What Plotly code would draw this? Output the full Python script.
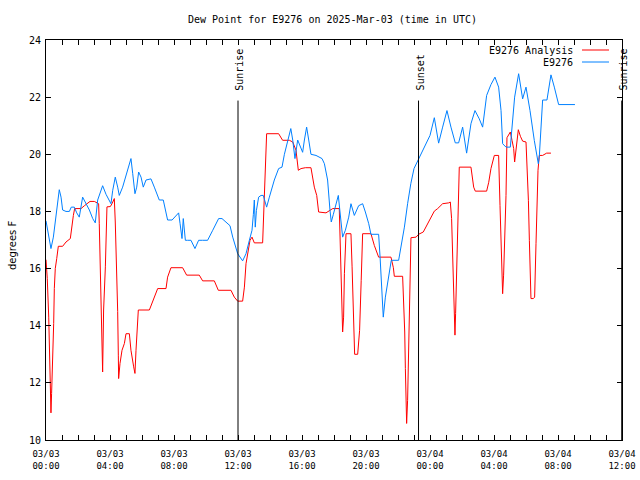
import pandas as pd
import plotly.graph_objects as go

# ---- data (hours after 2025-03-03 00:00 UTC) ----
obs_hours = [0, 0.21, 0.31, 0.46, 0.58, 0.73, 0.83, 0.94, 1.04, 1.25, 1.46, 1.58, 1.77, 1.92, 2.08,
             2.29, 2.5, 2.71, 2.92, 3.08, 3.23, 3.38, 3.54, 3.75, 3.96, 4.06, 4.17, 4.33, 4.48, 4.58,
             4.79, 5.04, 5.21, 5.31, 5.42, 5.56, 5.67, 5.79, 5.94, 6.08, 6.25, 6.56, 6.77, 6.98, 7.08,
             7.33, 7.46, 7.6, 7.88, 8.13, 8.29, 8.38, 8.5, 8.58, 8.71, 8.85, 9.06, 9.31, 9.54, 9.79,
             10.1, 10.42, 10.79, 11.0, 11.25, 11.5, 11.67, 11.98,
             12.29, 12.5, 12.71, 12.875, 12.96, 13.02, 13.08, 13.15, 13.29, 13.44, 13.58, 13.79, 13.96,
             14.27, 14.54, 14.75, 14.9, 15.1, 15.3, 15.42, 15.56, 15.73, 15.875, 16.04, 16.15, 16.29,
             16.42, 16.56, 16.875, 17.25, 17.4, 17.6, 17.75, 17.83, 17.96, 18.125, 18.27, 18.375, 18.54,
             18.71, 18.92, 19.06, 19.27, 19.54, 19.79, 19.96, 20.17, 20.31, 20.79, 20.88, 21.0, 21.08,
             21.21, 21.42, 21.58, 22.04, 22.19, 22.4, 22.6, 22.8,
             23.0, 23.29, 23.65, 24.0, 24.27, 24.54, 24.79, 25.06, 25.31, 25.58, 25.79, 26.04, 26.29,
             26.56, 26.81, 27.08, 27.29, 27.54, 27.81, 28.06, 28.29, 28.44, 28.54, 28.75, 29.02, 29.17,
             29.29, 29.54, 29.79, 30.0, 30.25, 30.52, 30.69, 30.77, 30.83, 30.94, 31.04, 31.31, 31.56,
             31.77, 32.04, 33.06]
obs_values = [17.67, 17.1, 16.7, 17.1, 17.7, 18.3, 18.76, 18.5, 18.05, 18.0, 18.0, 18.15, 18.15, 17.95, 17.8,
              18.5, 18.27, 18.05, 17.75, 17.6, 18.4, 18.68, 18.9, 18.6, 18.4, 18.27, 18.74, 19.2, 18.85, 18.56,
              18.85, 19.3, 19.67, 19.85, 19.32, 18.62, 18.85, 19.38, 19.2, 18.85, 19.1, 19.14, 18.85, 18.5, 18.4,
              18.4, 18.05, 17.7, 17.7, 17.86, 17.95, 17.57, 17.05, 17.75, 16.99, 16.99, 16.99, 16.7, 16.99, 16.99,
              16.99, 17.34, 17.75, 17.75, 17.63, 17.5, 17.1, 16.52,
              16.27, 16.52, 16.99, 17.34, 17.9, 18.4, 17.45, 18.03, 18.5, 18.56, 18.56, 18.15, 18.5,
              19.1, 19.5, 19.55, 20.0, 20.5, 20.9, 20.5, 19.85, 20.5, 20.3, 20.07, 20.5, 20.95,
              20.5, 20.0, 19.96, 19.85, 19.67, 19.1, 18.03, 17.63, 17.9, 18.27, 18.56, 17.98, 17.1,
              17.34, 17.8, 18.27, 17.86, 18.2, 18.27, 17.98, 17.57, 17.2, 17.2, 16.4, 14.77, 14.3,
              15.0, 15.8, 16.29, 16.29, 16.75, 17.45, 18.27, 18.97,
              19.5, 19.85, 20.25, 20.66, 21.28, 20.39, 20.95, 21.53, 20.95, 20.4, 20.4, 20.95, 20.04,
              21.07, 21.53, 21.24, 20.95, 22.06, 22.44, 22.7, 22.35, 21.53, 20.37, 20.25, 20.25, 21.2,
              22.0, 22.82, 21.94, 22.35, 21.53, 20.48, 19.9, 19.67, 19.9, 20.95, 21.9, 21.9, 22.78,
              22.35, 21.74, 21.74]

ana_hours = [0, 0.08, 0.17, 0.21, 0.27, 0.31, 0.35, 0.42, 0.48, 0.52, 0.58, 0.67, 0.77, 1.04, 1.25, 1.52,
             1.6, 1.71, 1.79, 2.19, 2.4, 2.75, 3.02, 3.29, 3.33, 3.38, 3.44, 3.5, 3.54, 3.6, 3.71, 3.81,
             4.02, 4.125, 4.27, 4.33, 4.42, 4.48, 4.52, 4.54, 4.625, 4.75, 4.9, 5.0, 5.21, 5.31, 5.48,
             5.56, 5.625, 5.69, 5.77, 6.46, 6.77, 6.98, 7.5, 7.6, 7.81, 8.54, 8.79, 9.58, 9.79, 10.52,
             10.77, 11.56, 11.77, 11.98, 12.29, 12.4, 12.5, 12.6, 12.75, 12.875, 13.02, 13.54, 13.6,
             13.71, 13.79, 14.54, 14.79, 15.21, 15.42, 15.625, 15.77, 15.94, 16.21, 16.56, 16.77, 16.92,
             17.04, 17.5, 17.92, 18.33, 18.4, 18.46, 18.54, 18.6, 18.65, 18.75, 19.06, 19.13, 19.21,
             19.29, 19.48, 19.6, 19.7, 19.79, 20.31, 20.52, 20.79, 21.56, 21.71, 21.77, 22.29, 22.35,
             22.42, 22.46, 22.5, 22.54, 22.6, 22.67, 22.73, 22.77, 22.81, 23.13, 23.29, 23.58, 23.85,
             24.27, 24.48, 24.79, 25.17, 25.27, 25.35, 25.42, 25.48, 25.52, 25.56, 25.6, 25.67, 25.73,
             25.79, 25.83, 26.56, 26.73, 26.83, 27.54, 27.67, 27.81, 28.02, 28.29, 28.375, 28.44, 28.5,
             28.54, 28.6, 28.69, 28.75, 28.81, 29.02, 29.125, 29.23, 29.29, 29.42, 29.52, 29.65, 29.79,
             30.0, 30.06, 30.15, 30.21, 30.27, 30.31, 30.46, 30.54, 30.625, 30.69, 30.75, 30.83, 31.04,
             31.29, 31.56]
ana_values = [16.31, 15.65, 14.3, 12.97, 11.63, 10.95, 11.63, 12.8, 14.08, 15.3, 16.0, 16.35, 16.78, 16.78, 16.93, 17.05,
              17.45, 17.86, 18.1, 18.1, 18.2, 18.35, 18.35, 18.27, 17.57, 16.06, 14.6, 13.14, 12.38, 14.55, 16.06, 18.16,
              18.17, 18.27, 18.45, 17.63, 16.06, 14.5, 12.97, 12.15, 12.68, 13.14, 13.38, 13.72, 13.72, 13.14, 12.56,
              12.33, 13.14, 13.7, 14.55, 14.55, 15.0, 15.3, 15.3, 15.7, 16.03, 16.03, 15.77, 15.77, 15.57, 15.57,
              15.24, 15.24, 15.0, 14.86, 14.86, 15.35, 16.17, 16.46, 16.99, 17.1, 16.9, 16.9, 17.8,
              19.26, 20.72, 20.72, 20.49, 20.49, 20.43, 20.14, 19.44, 19.5, 19.53, 19.53, 18.85, 18.56,
              17.98, 17.95, 18.1, 18.1, 16.87, 15.36, 13.78, 14.3, 15.82, 17.22, 17.22, 16.06, 14.6,
              13.0, 13.0, 13.84, 15.59, 17.22, 17.22, 16.81, 16.4, 16.4, 16.03, 15.73, 15.73, 15.06,
              13.78, 12.5, 11.28, 10.58, 11.39, 13.0, 14.66, 16.29, 17.08, 17.1, 17.2, 17.28, 17.57,
              18.01, 18.1, 18.27, 18.3, 18.33, 17.75, 16.58, 15.42, 14.3, 13.67, 14.42, 15.94, 17.34,
              18.8, 19.55, 19.55, 18.85, 18.71, 18.71, 19.02, 19.5, 19.96, 19.96, 18.21, 16.99, 15.77,
              15.12, 15.77, 17.34, 18.56, 20.58, 20.78, 20.49, 20.2, 19.73, 20.37, 20.86, 20.63, 20.46,
              20.43, 19.67, 18.39, 16.99, 15.59, 14.95, 14.95, 15.0, 16.87, 18.15, 19.44, 19.96, 19.96,
              20.04, 20.04]

tick_times = ["2025-03-03 00:00", "2025-03-03 04:00", "2025-03-03 08:00", "2025-03-03 12:00",
              "2025-03-03 16:00", "2025-03-03 20:00", "2025-03-04 00:00", "2025-03-04 04:00",
              "2025-03-04 08:00", "2025-03-04 12:00"]
tick_labels = ["03/03<br>00:00", "03/03<br>04:00", "03/03<br>08:00", "03/03<br>12:00",
               "03/03<br>16:00", "03/03<br>20:00", "03/04<br>00:00", "03/04<br>04:00",
               "03/04<br>08:00", "03/04<br>12:00"]
sun_times = ["2025-03-03 12:00", "2025-03-03 23:17", "2025-03-04 11:59"]
sun_labels = ["Sunrise", "Sunset", "Sunrise"]
series_names = ["E9276 Analysis", "E9276"]
series_colors = ["#ff0000", "#0080ff"]

base = pd.Timestamp("2025-03-03 00:00")
obs_t = base + pd.to_timedelta(obs_hours, unit="h")
ana_t = base + pd.to_timedelta(ana_hours, unit="h")

MONO = "DejaVu Sans Mono"
fig = go.Figure()
fig.add_trace(go.Scatter(x=ana_t, y=ana_values, mode="lines", name=series_names[0],
                         line=dict(color=series_colors[0], width=1), showlegend=False))
fig.add_trace(go.Scatter(x=obs_t, y=obs_values, mode="lines", name=series_names[1],
                         line=dict(color=series_colors[1], width=1), showlegend=False))

# plot area: x 46..622, y 40..440
L, R, T, B = 46, 622, 40, 440
def px(xp):
    return (xp - L) / (R - L)
def py(yp):
    return (B - yp) / (B - T)

# sunrise / sunset lines and labels
for t, lab in zip(sun_times, sun_labels):
    fig.add_shape(type="line", xref="x", yref="y", x0=t, x1=t, y0=10, y1=21.88,
                  line=dict(color="black", width=1))
    fig.add_annotation(x=t, y=22.15, xref="x", yref="y", text=lab, textangle=-90,
                       showarrow=False, xanchor="center", yanchor="bottom", xshift=2,
                       font=dict(family=MONO, size=10, color="black"))

# manual legend (text right, line sample to right)
for i, (nm, col) in enumerate(zip(series_names, series_colors)):
    yy = [50, 62][i]
    fig.add_annotation(x=px(575), y=py(yy), xref="paper", yref="paper", text=nm,
                       showarrow=False, xanchor="right", yanchor="middle",
                       font=dict(family=MONO, size=10, color="black"))
    fig.add_shape(type="line", xref="paper", yref="paper", x0=px(582), x1=px(609),
                  y0=py(yy), y1=py(yy), line=dict(color=col, width=1))

# title
fig.add_annotation(x=px(332), y=py(20), xref="paper", yref="paper",
                   text="Dew Point for E9276 on 2025-Mar-03 (time in UTC)", showarrow=False,
                   xanchor="center", yanchor="middle", font=dict(family=MONO, size=10, color="black"))
# y title
fig.add_annotation(x=px(12), y=py(246), xref="paper", yref="paper", text="degrees F",
                   textangle=-90, showarrow=False, xanchor="center", yanchor="middle",
                   font=dict(family="DejaVu Sans", size=10, color="black"))

fig.update_layout(
    width=640, height=480,
    margin=dict(l=L, r=640 - R, t=T, b=480 - B, pad=0, autoexpand=False),
    paper_bgcolor="white", plot_bgcolor="white",
    showlegend=False,
    font=dict(family=MONO, size=9, color="black"),
)
fig.update_xaxes(
    type="date", range=["2025-03-03 00:00", "2025-03-04 12:00"],
    tickmode="array", tickvals=tick_times, ticktext=tick_labels,
    ticks="inside", ticklen=5, tickcolor="black", tickwidth=1,
    minor=dict(dtick=3600000, ticks="inside", ticklen=5, tickcolor="black", tickwidth=1, showgrid=False),
    showline=True, linecolor="black", linewidth=1, mirror="allticks",
    showgrid=False, zeroline=False, tickfont=dict(family=MONO, size=9),
    ticklabelstandoff=5,
)
fig.update_yaxes(
    range=[10, 24], tickmode="array", tickvals=[10, 12, 14, 16, 18, 20, 22, 24],
    ticktext=["10", "12", "14", "16", "18", "20", "22", "24"],
    ticks="inside", ticklen=5, tickcolor="black", tickwidth=1,
    showline=True, linecolor="black", linewidth=1, mirror="allticks",
    showgrid=False, zeroline=False, tickfont=dict(family=MONO, size=10),
    ticklabelstandoff=2,
)

fig.write_html("out.html", config={"displayModeBar": False},
               post_script="document.body.style.margin='0px';")
